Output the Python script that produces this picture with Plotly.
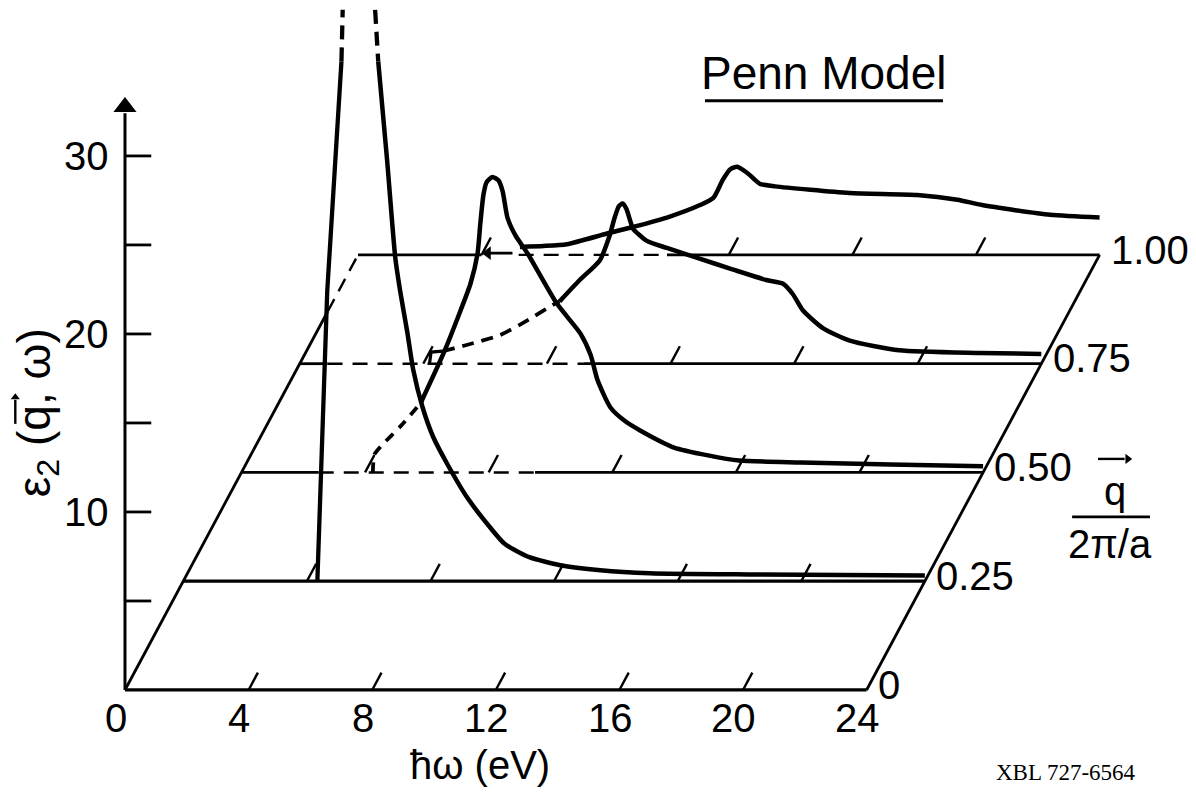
import plotly.graph_objects as go

# ---------------- data ----------------
# oblique 3-D projection: each unit of q shifts a baseline right (eV) and up (eps)
KX = 7.54
KY = 24.44

q_levels = [0.0, 0.25, 0.50, 0.75, 1.00]
q_labels = ["0", "0.25", "0.50", "0.75", "1.00"]
e_tick_values = [0, 4, 8, 12, 16, 20, 24]
e_tick_labels = ["0", "4", "8", "12", "16", "20", "24"]
eps_tick_values = [5, 10, 15, 20, 25, 30]
eps_label_values = [10, 20, 30]
eps_label_text = ["10", "20", "30"]
E_MAX = 24.0
EPS_TOP = 33.6

# slanted tick marks on each baseline (eV)
base_ticks_q000 = [4, 8, 12, 16, 20]
base_ticks_q025 = [4, 8, 12, 16, 20]
base_ticks_q050 = [4, 8, 12, 16, 20]
base_ticks_q075 = [4, 8, 12, 16, 20]
base_ticks_q100 = [4, 12, 16, 20]

# q = 0.25 curve
q025_E_left = [4.34, 4.66, 5.12]
q025_eps_left = [0.0, 16.3, 29.2]
q025_E_left_dash = [5.12, 5.16]
q025_eps_left_dash = [29.2, 32.1]
q025_E_right_dash = [6.21, 6.31]
q025_eps_right_dash = [32.1, 29.2]
q025_E = [6.31, 6.60, 6.86, 7.02, 7.25, 7.44, 7.74, 8.09, 8.54, 9.19, 9.94,
          10.4, 11.2, 12.2, 13.5, 15.1, 18.3, 24.0]
q025_eps = [29.2, 23.6, 18.2, 16.3, 14.0, 11.9, 9.8, 8.1, 6.6, 4.7, 3.0,
            2.1, 1.35, 0.9, 0.62, 0.45, 0.38, 0.32]

# q = 0.50 curve
q050_E_dash = [4.25, 4.3, 4.5, 5.15, 5.8]
q050_eps_dash = [0.0, 1.0, 1.45, 2.6, 3.9]
q050_E = [5.8, 6.54, 7.09, 7.41, 7.64, 7.73, 7.83, 7.93, 8.12, 8.32, 8.45, 8.61,
          8.87, 9.26, 10.2, 10.97, 11.3, 11.52, 11.94, 12.4, 12.9, 14.0, 15.1,
          16.1, 18.1, 21.0, 24.0]
q050_eps = [3.9, 6.7, 9.1, 10.6, 12.3, 14.0, 15.6, 16.3, 16.6, 16.4, 15.8, 14.3,
            13.3, 12.3, 9.5, 7.8, 6.6, 5.2, 3.65, 2.9, 2.36, 1.4, 0.96,
            0.67, 0.56, 0.45, 0.35]

# q = 0.75 curve
q075_E_step = [4.2, 4.25, 4.63]
q075_eps_step = [0.0, 0.65, 0.7]
q075_E_dash = [4.63, 5.4, 6.47, 7.34, 8.19, 8.41]
q075_eps_dash = [0.7, 1.05, 1.6, 2.4, 3.3, 3.5]
q075_E = [8.41, 9.06, 9.71, 10.03, 10.19, 10.33, 10.45, 10.57, 10.7, 10.78,
          11.23, 11.88, 12.94, 14.0, 15.1, 15.63, 15.96, 16.28, 16.93, 17.8,
          19.4, 22.0, 24.0]
q075_eps = [3.5, 4.7, 5.8, 7.2, 8.2, 8.85, 9.0, 8.7, 8.0, 7.6,
            6.9, 6.5, 5.9, 5.3, 4.7, 4.5, 3.9, 3.0, 2.0, 1.3,
            0.75, 0.6, 0.55]

# q = 1.00 curve
q100_E = [5.24, 6.0, 6.76, 8.06, 8.9, 10.0, 11.07, 11.5, 11.8, 12.04, 12.27,
          12.6, 13.0, 13.5, 15.9, 18.1, 19.4, 20.2, 22.4, 24.0]
q100_eps = [0.45, 0.5, 0.6, 1.2, 1.57, 2.1, 2.8, 3.2, 4.2, 4.8, 4.95,
            4.6, 4.0, 3.85, 3.48, 3.37, 3.1, 2.8, 2.25, 2.1]
q100_arrow_E = [5.0, 4.0]   # tail, head

# solid / dashed pieces of the baselines (eV ranges)
base_solid = {0.0: [(0, 24)], 0.25: [(0, 24)], 0.50: [(0, 2.5), (9.5, 24)],
              0.75: [(0, 0.9), (9.2, 24)], 1.00: [(0, 4.0), (10.0, 24)]}
base_dashed = {0.50: [(2.5, 9.5)], 0.75: [(0.9, 9.2)], 1.00: [(5.2, 10.0)]}
left_edge_solid_q = [0.0, 0.87]
left_edge_dash_q = [0.87, 1.0]

# ---------------- drawing ----------------
FONT = "Liberation Sans, Arial, sans-serif"
BLACK = "#000000"


def proj(E, q, eps):
    return [e + KX * q for e in E], [v + KY * q for v in eps]


fig = go.Figure()


def add(x, y, width, dash="solid", shape="linear"):
    fig.add_trace(go.Scatter(x=x, y=y, mode="lines", hoverinfo="skip",
                             line=dict(color=BLACK, width=width, dash=dash,
                                       shape=shape, smoothing=0.6)))


def head(x, y, symbol, size):
    fig.add_trace(go.Scatter(x=[x], y=[y], mode="markers", hoverinfo="skip",
                             marker=dict(symbol=symbol, size=size, color=BLACK,
                                         line=dict(width=0))))


# baselines
for q, segs in base_solid.items():
    for a, b in segs:
        x, y = proj([a, b], q, [0, 0])
        add(x, y, 3.2 if q in (0.0, 0.25) else 2.8)
for q, segs in base_dashed.items():
    for a, b in segs:
        x, y = proj([a, b], q, [0, 0])
        add(x, y, 2.4, dash="15px,10px")

# q-direction edges
add([KX * left_edge_solid_q[0], KX * left_edge_solid_q[1]],
    [KY * left_edge_solid_q[0], KY * left_edge_solid_q[1]], 2.8)
add([KX * left_edge_dash_q[0], KX * left_edge_dash_q[1]],
    [KY * left_edge_dash_q[0], KY * left_edge_dash_q[1]], 2.4, dash="14px,9px")
add([E_MAX + KX * q_levels[0], E_MAX + KX * q_levels[-1]],
    [KY * q_levels[0], KY * q_levels[-1]], 2.8)

# slanted ticks on the baselines
tick_sets = {0.0: base_ticks_q000, 0.25: base_ticks_q025, 0.50: base_ticks_q050,
             0.75: base_ticks_q075, 1.00: base_ticks_q100}
tx, ty = [], []
for q, ticks in tick_sets.items():
    for e in ticks:
        tx += [e + KX * q, e + KX * (q + 0.04), None]
        ty += [KY * q, KY * (q + 0.04), None]
add(tx, ty, 2.4)

# vertical eps axis with ticks and arrow head
add([0, 0], [0, EPS_TOP - 1.2], 3.0)
head(0, EPS_TOP - 0.85, "triangle-up", 20)
vx, vy = [], []
for v in eps_tick_values:
    vx += [0, 0.85, None]
    vy += [v, v, None]
add(vx, vy, 2.8)

# curves
x, y = proj(q025_E_left, 0.25, q025_eps_left); add(x, y, 4.3)
x, y = proj(q025_E_left_dash, 0.25, q025_eps_left_dash); add(x, y, 4.3, dash="14px,8px")
x, y = proj(q025_E_right_dash, 0.25, q025_eps_right_dash); add(x, y, 4.3, dash="14px,8px")
x, y = proj(q025_E, 0.25, q025_eps); add(x, y, 4.5, shape="spline")

x, y = proj(q050_E_dash, 0.50, q050_eps_dash); add(x, y, 3.8, dash="10px,8px", shape="spline")
x, y = proj(q050_E, 0.50, q050_eps); add(x, y, 4.5, shape="spline")

x, y = proj(q075_E_step, 0.75, q075_eps_step); add(x, y, 3.2)
x, y = proj(q075_E_dash, 0.75, q075_eps_dash); add(x, y, 3.8, dash="12px,8px", shape="spline")
x, y = proj(q075_E, 0.75, q075_eps); add(x, y, 4.5, shape="spline")

x, y = proj(q100_E, 1.00, q100_eps); add(x, y, 4.5, shape="spline")
# left-pointing arrow on the q = 1.00 baseline
ax_, ay_ = proj([q100_arrow_E[0], q100_arrow_E[1] + 0.25], 1.00, [0.1, 0.1])
add(ax_, ay_, 2.8)
hx_, hy_ = proj([q100_arrow_E[1] + 0.2], 1.00, [0.1])
head(hx_[0], hy_[0], "triangle-left", 12)

# ---------------- text ----------------
def text(x, y, s, size=40, xanchor="center", yanchor="middle", family=FONT, angle=0):
    fig.add_annotation(x=x, y=y, xref="x", yref="y", text=s, showarrow=False,
                       xanchor=xanchor, yanchor=yanchor, textangle=angle,
                       font=dict(family=family, size=size, color=BLACK))


for e, lab in zip(e_tick_values, e_tick_labels):
    text(e - 0.3, -1.55, lab)
for v, lab in zip(eps_label_values, eps_label_text):
    text(-0.45, v, lab, xanchor="right")
for q, lab in zip(q_levels, q_labels):
    text(E_MAX + KX * q + 0.3, KY * q + 0.3, lab, xanchor="left")

text(11.5, -4.2, "ħω (eV)")
text(-2.85, 15.6, "ε<sub>2</sub> (q, ω)", size=46, angle=-90)
# vector arrow over the q of the rotated label
add([-3.55, -3.55], [14.95, 16.3], 2.4)
head(-3.55, 16.45, "triangle-up", 8)

text(22.62, 34.66, "Penn Model", size=46)
add([18.77, 26.47], [33.1, 33.1], 3.0)

# q / (2π/a) label
text(32.04, 11.2, "q")
add([31.49, 32.35], [12.98, 12.98], 2.4)
head(32.45, 12.98, "triangle-right", 9)
add([30.65, 33.17], [9.72, 9.72], 2.8)
text(31.88, 8.2, "2π/a")

text(30.45, -4.66, "XBL 727-6564", size=23, family="Liberation Serif, Times New Roman, serif")

fig.update_layout(
    width=1196, height=795, autosize=False,
    margin=dict(l=0, r=0, t=0, b=0),
    paper_bgcolor="white", plot_bgcolor="white",
    showlegend=False,
    xaxis=dict(range=[-4.045, 34.66], visible=False, fixedrange=True),
    yaxis=dict(range=[-5.9, 38.76], visible=False, fixedrange=True),
)

fig.write_html("out.html", config={"displayModeBar": False},
               post_script="document.body.style.margin='0px';")
